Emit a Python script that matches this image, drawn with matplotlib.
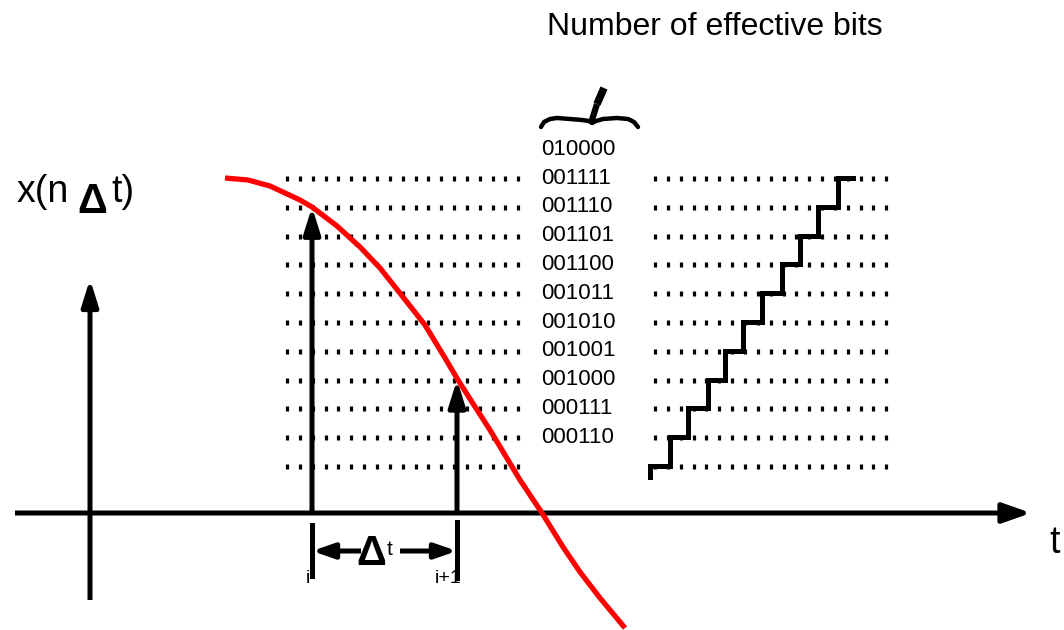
import numpy as np
import matplotlib.pyplot as plt
from matplotlib.patches import FancyArrowPatch

plt.rcParams['font.family'] = ['Liberation Sans', 'DejaVu Sans']

# quantisation codes (bottom dotted row is code 5, labels run 6..16)
codes = ['000110', '000111', '001000', '001001', '001010', '001011',
         '001100', '001101', '001110', '001111', '010000']
label_levels = [6, 7, 8, 9, 10, 11, 12, 13, 14, 15, 16]
row_levels = [5, 6, 7, 8, 9, 10, 11, 12, 13, 14, 15]

# red analog signal (pixel coords)
curve_x = [225, 248, 270, 300, 312, 337, 360, 380, 403, 425, 445, 458,
           472, 490, 505, 520, 542, 563, 580, 600, 625]
curve_y = [178, 180, 186, 200, 207, 226, 247, 268, 297, 325, 358, 380,
           402, 430, 455, 480, 513, 547, 572, 598, 628]

# samples i and i+1 : x position and quantised level
sample_x = [312, 457]
sample_lvl = [14, 8]
sample_lbl = ['i', 'i+1']

# staircase of the quantiser output
stair_x = [650, 650, 670, 688, 708, 725, 743, 762, 782, 800, 818, 838, 853]
stair_lvl = [4.62, 5, 6, 7, 8, 9, 10, 11, 12, 13, 14, 15, 15]

AXIS_Y = 513


def lvl(c):
    return 466 - (np.asarray(c, dtype=float) - 5) * 28.8


def arrow(ax, p0, p1, lw=3.6, hl=1.6, hw=0.5):
    a = FancyArrowPatch(p0, p1, arrowstyle='-|>,head_length=%s,head_width=%s' % (hl, hw),
                        mutation_scale=10, lw=lw, color='black',
                        shrinkA=0, shrinkB=0, joinstyle='round', capstyle='butt')
    ax.add_patch(a)


fig = plt.figure(figsize=(10.64, 6.30), dpi=100)
ax = fig.add_axes([0, 0, 1, 1])
ax.set_xlim(0, 1064)
ax.set_ylim(630, 0)
ax.axis('off')

# dotted rows
for r in row_levels:
    for x0, x1 in [(287, 518), (655, 888)]:
        xs = np.arange(x0, x1 + 1, 12.85)
        ax.plot(xs, np.full(len(xs), lvl(r)), ls='none', marker='|',
                ms=3.6, mew=2.3, color='black')

# code labels
for c, l in zip(codes, label_levels):
    ax.text(541, lvl(l), c, fontsize=16, va='center', ha='left')

ax.text(715, 27, 'Number of effective bits', fontsize=23, ha='center', va='center')

# brace with pointer
bx = [541, 544, 550, 557, 570, 582, 589, 592, 596, 603, 617, 628, 634, 638]
by = [127, 122, 119, 118, 119, 120, 121, 123, 121, 119, 118, 119, 122, 127]
ax.plot(bx, by, color='black', lw=3.2, solid_capstyle='round')
ax.plot([591, 597], [123, 104], color='black', lw=4.5, solid_capstyle='butt')
ax.plot([597, 604], [104, 88], color='black', lw=5.5, solid_capstyle='butt')

# axes
arrow(ax, (15, AXIS_Y), (1031, AXIS_Y), lw=3.6, hl=1.7, hw=0.6)
arrow(ax, (90, 600), (90, 279), lw=3.6)
ax.text(1049, 553, 't', fontsize=27, ha='left', va='baseline')

ax.text(17, 202, 'x(n', fontsize=27, ha='left', va='baseline')
ax.text(92, 213, 'Δ', fontsize=30, fontweight='bold', ha='center', va='baseline')
ax.text(111, 202, 't)', fontsize=27, ha='left', va='baseline')

# red signal
ax.plot(curve_x, curve_y, color='#ff0000', lw=3.8, solid_capstyle='butt')

# samples
for x, l in zip(sample_x, sample_lvl):
    arrow(ax, (x, AXIS_Y), (x, lvl(l)), lw=3.6)

# staircase
ax.step(stair_x, lvl(stair_lvl), where='post', color='black', lw=3.6,
        solid_joinstyle='miter')

# delta t annotation
ax.plot([312, 312], [525, 576], color='black', lw=3.6)
ax.plot([457, 457], [522, 578], color='black', lw=3.6)
arrow(ax, (361, 551), (312, 551), lw=3.6, hl=1.3, hw=0.45)
arrow(ax, (400, 551), (457, 551), lw=3.6, hl=1.3, hw=0.45)
ax.text(371, 565, 'Δ', fontsize=30, fontweight='bold', ha='center', va='baseline')
ax.text(387, 555, 't', fontsize=15, ha='left', va='baseline')
ax.text(sample_x[0] - 6, 583, sample_lbl[0], fontsize=14, ha='left', va='baseline')
ax.text(sample_x[1] - 22, 583, sample_lbl[1], fontsize=14, ha='left', va='baseline')

fig.savefig('out.png', dpi=100)
